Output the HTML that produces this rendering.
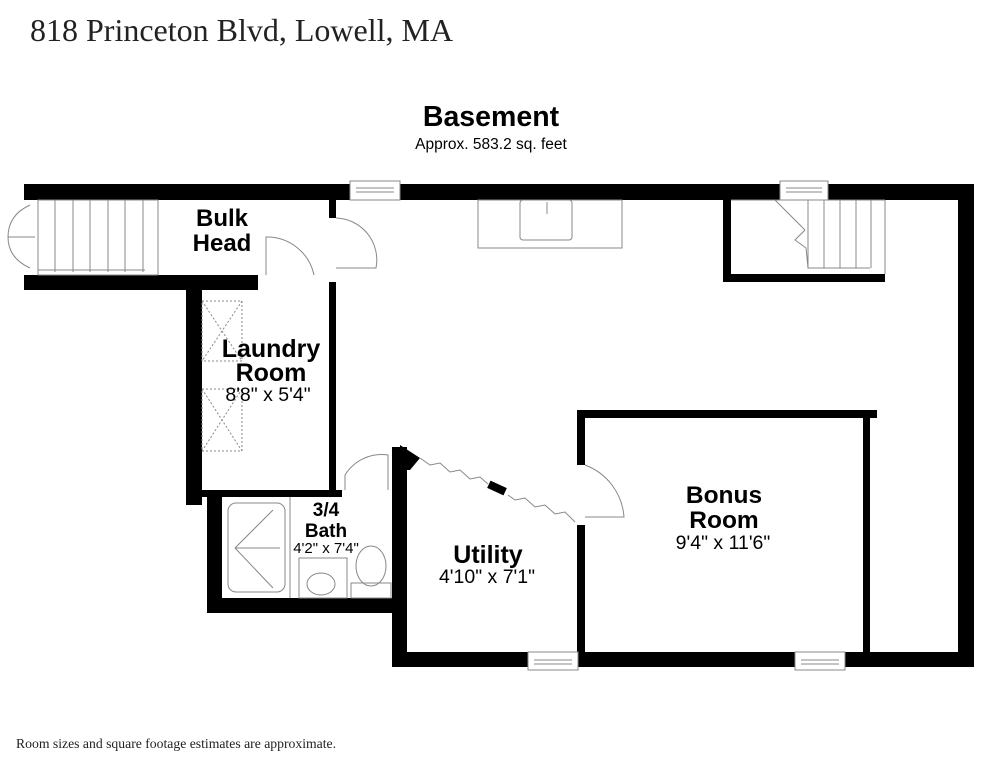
<!DOCTYPE html>
<html><head><meta charset="utf-8"><style>
body{margin:0;background:#fff;width:984px;height:758px;overflow:hidden}
svg{display:block}
.t{font-family:"Liberation Sans",sans-serif;fill:#000}
.b{font-weight:bold}
.th{stroke:#888;stroke-width:1;fill:none}
</style></head><body>
<svg width="984" height="758" viewBox="0 0 984 758">
<text x="30" y="41" font-family="Liberation Serif,serif" font-size="32" fill="#222">818 Princeton Blvd, Lowell, MA</text>
<text x="491" y="126" class="t b" font-size="28.5" text-anchor="middle">Basement</text>
<text x="491" y="149" class="t" font-size="15.5" text-anchor="middle" fill="#333">Approx. 583.2 sq. feet</text>
<text x="16" y="748" font-family="Liberation Serif,serif" font-size="13.7" fill="#222">Room sizes and square footage estimates are approximate.</text>

<g fill="#000">
<rect x="24" y="184" width="326" height="16"/>
<rect x="400" y="184" width="380" height="16"/>
<rect x="828" y="184" width="146" height="16"/>
<rect x="958" y="184" width="16" height="483"/>
<rect x="24" y="275" width="234" height="15"/>
<rect x="186" y="275" width="16" height="230"/>
<rect x="329" y="200" width="7" height="18"/>
<rect x="329" y="282" width="7" height="215"/>
<rect x="202" y="490" width="140" height="7"/>
<rect x="207" y="497" width="15" height="116"/>
<rect x="207" y="598" width="185" height="15"/>
<rect x="392" y="447" width="15" height="220"/>
<polygon points="400,445 420,458 410,470 407,470 400,470"/>
<rect x="392" y="652" width="136" height="15"/>
<rect x="578" y="652" width="217" height="15"/>
<rect x="845" y="652" width="129" height="15"/>
<rect x="577" y="410" width="300" height="8"/>
<rect x="577" y="410" width="8" height="55"/>
<rect x="577" y="525" width="8" height="127"/>
<rect x="863" y="418" width="7" height="234"/>
<rect x="723" y="200" width="8" height="82"/>
<rect x="723" y="274" width="162" height="8"/>
<rect x="488" y="484" width="18" height="8" transform="rotate(25 497 488)"/>
</g>
<g class="th">
<rect x="350" y="181" width="50" height="19" fill="#fff"/><line x1="356" y1="188" x2="394" y2="188"/><line x1="356" y1="192" x2="394" y2="192"/>
<rect x="780" y="181" width="48" height="19" fill="#fff"/><line x1="786" y1="188" x2="822" y2="188"/><line x1="786" y1="192" x2="822" y2="192"/>
<rect x="528" y="652" width="50" height="18" fill="#fff"/><line x1="534" y1="660" x2="572" y2="660"/><line x1="534" y1="664" x2="572" y2="664"/>
<rect x="795" y="652" width="50" height="18" fill="#fff"/><line x1="801" y1="660" x2="839" y2="660"/><line x1="801" y1="664" x2="839" y2="664"/>
</g>
<g class="th">
<rect x="38" y="200" width="120" height="75"/>
<line x1="55" y1="200" x2="55" y2="272"/><line x1="73" y1="200" x2="73" y2="272"/><line x1="90" y1="200" x2="90" y2="272"/><line x1="108" y1="200" x2="108" y2="272"/><line x1="125" y1="200" x2="125" y2="272"/><line x1="143" y1="200" x2="143" y2="272"/>
<line x1="38" y1="270" x2="145" y2="270"/>
<path d="M30 205 Q8 215 8 237 L35 237"/><path d="M30 268 Q8 258 8 237"/>
<path d="M266 275 L266 237 A48 48 0 0 1 314 275"/>
<path d="M336 218 A42 42 0 0 1 376 268 L336 268"/>
<path d="M345 490 L345 475 A43 43 0 0 1 388 455 L388 490"/>
<path d="M585 465 A60 60 0 0 1 624 517 L585 517"/>
<path d="M420 458 L430 465 L440 463 L450 472 L460 470 L470 479 L480 477 L488 484"/>
<path d="M508 495 L515 500 L525 498 L535 507 L545 505 L555 514 L565 512 L575 522"/>
<g stroke-dasharray="2,2"><rect x="202" y="301" width="40" height="60"/><rect x="202" y="389" width="40" height="62"/>
<path d="M202 301 L242 361 M242 301 L202 361 M202 389 L242 451 M242 389 L202 451"/></g>
<rect x="228" y="503" width="57" height="89" rx="8"/>
<line x1="235" y1="548" x2="280" y2="548"/><line x1="235" y1="548" x2="273" y2="510"/><line x1="235" y1="548" x2="273" y2="588"/>
<line x1="290" y1="497" x2="290" y2="598"/>
<rect x="299" y="558" width="48" height="40"/><ellipse cx="321" cy="584" rx="14" ry="11"/>
<ellipse cx="371" cy="566" rx="15" ry="20"/><rect x="351" y="583" width="40" height="15"/>
<rect x="478" y="200" width="144" height="48"/><rect x="520" y="200" width="52" height="40" rx="3"/>
<line x1="547" y1="202" x2="547" y2="214"/>
<line x1="731" y1="200" x2="885" y2="200"/><line x1="885" y1="200" x2="885" y2="274"/>
<line x1="775" y1="200" x2="805" y2="230"/><path d="M805 230 L795 240 L806 248 L808 268 L870 268"/>
<line x1="808" y1="200" x2="808" y2="268"/><line x1="824" y1="200" x2="824" y2="268"/><line x1="840" y1="200" x2="840" y2="268"/><line x1="856" y1="200" x2="856" y2="268"/><line x1="871" y1="200" x2="871" y2="268"/>
</g>
<g class="t b" text-anchor="middle">
<text x="222" y="226" font-size="24">Bulk</text><text x="222" y="251" font-size="24">Head</text>
<text x="271" y="357" font-size="25">Laundry</text><text x="271" y="381" font-size="25">Room</text>
<text x="326" y="516" font-size="19">3/4</text><text x="326" y="537" font-size="19">Bath</text>
<text x="488" y="563" font-size="25">Utility</text>
<text x="724" y="503" font-size="24.5">Bonus</text><text x="724" y="528" font-size="24.5">Room</text>
</g>
<g class="t" text-anchor="middle">
<text x="268" y="401" font-size="19.5">8'8" x 5'4"</text>
<text x="326" y="553" font-size="15">4'2" x 7'4"</text>
<text x="487" y="583" font-size="19.5">4'10" x 7'1"</text>
<text x="723" y="549" font-size="19.5">9'4" x 11'6"</text>
</g>
</svg>
</body></html>
